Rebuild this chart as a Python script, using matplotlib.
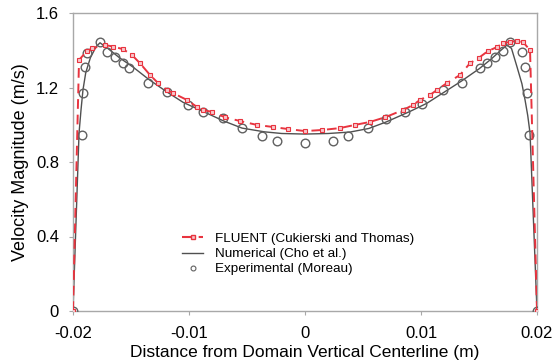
import matplotlib
matplotlib.use('Agg')
import matplotlib.pyplot as plt
from matplotlib.lines import Line2D

plt.rcParams['font.family'] = ['Liberation Sans', 'DejaVu Sans']

# FLUENT (Cukierski and Thomas)
fluent_x = [-0.02, -0.01948, -0.01879, -0.01836, -0.01724, -0.01655, -0.01569, -0.01491,
            -0.01422, -0.01336, -0.01267, -0.0119, -0.01138, -0.01017, -0.0093, -0.00879,
            -0.008, -0.0069, -0.0056, -0.00414, -0.00276, -0.00147, 0.0, 0.0015, 0.003,
            0.0043, 0.0056, 0.0069, 0.00845, 0.00931, 0.00991, 0.01078, 0.01138, 0.01224,
            0.01336, 0.01422, 0.0150, 0.01578, 0.01655, 0.01707, 0.01767, 0.01828, 0.0188,
            0.0194, 0.02]
fluent_y = [0.0, 1.348, 1.396, 1.41, 1.428, 1.42, 1.406, 1.374,
            1.33, 1.267, 1.224, 1.187, 1.17, 1.133, 1.095, 1.079,
            1.069, 1.04, 1.02, 0.999, 0.988, 0.977, 0.966, 0.972, 0.982,
            0.999, 1.015, 1.04, 1.079, 1.106, 1.133, 1.16, 1.187, 1.224,
            1.267, 1.33, 1.36, 1.396, 1.417, 1.439, 1.444, 1.45, 1.444,
            1.40, 0.0]

# Numerical (Cho et al.)
num_x = [-0.02, -0.01948, -0.01931, -0.01914, -0.0189, -0.0185, -0.0180, -0.01767,
         -0.0170, -0.0160, -0.01483, -0.0135, -0.0119, -0.0105, -0.00905, -0.0070,
         -0.00543, -0.0035, -0.002, 0.0, 0.002, 0.0039, 0.0055, 0.007, 0.009, 0.0105,
         0.012, 0.0135, 0.015, 0.016, 0.0168, 0.01741, 0.0178, 0.01828, 0.0187,
         0.01897, 0.0192, 0.0194, 0.02]
num_y = [0.0, 0.955, 1.079, 1.187, 1.28, 1.36, 1.42, 1.44,
         1.41, 1.36, 1.31, 1.245, 1.176, 1.12, 1.079, 1.02,
         0.982, 0.962, 0.953, 0.95, 0.953, 0.961, 0.98, 1.015, 1.07, 1.115,
         1.175, 1.235, 1.30, 1.35, 1.395, 1.428, 1.41, 1.31, 1.22,
         1.133, 1.05, 0.955, 0.0]

# Experimental (Moreau)
exp_x = [-0.02, -0.01922, -0.01914, -0.01897, -0.01879, -0.01767, -0.01707, -0.01638,
         -0.01569, -0.01517, -0.01353, -0.0119, -0.01009, -0.00879, -0.00707, -0.00543,
         -0.00371, -0.00241, 0.0, 0.00241, 0.00371, 0.00543, 0.00698, 0.00862, 0.01009,
         0.0119, 0.01353, 0.01509, 0.01569, 0.01638, 0.01707, 0.01767, 0.01871, 0.01897,
         0.01914, 0.01931, 0.02]
exp_y = [0.0, 0.945, 1.17, 1.31, 1.385, 1.444, 1.39, 1.364,
         1.33, 1.305, 1.224, 1.176, 1.106, 1.069, 1.036, 0.982,
         0.94, 0.913, 0.902, 0.913, 0.94, 0.982, 1.03, 1.069, 1.111,
         1.187, 1.224, 1.305, 1.33, 1.364, 1.396, 1.444, 1.39, 1.31,
         1.17, 0.945, 0.0]

x_ticks = [-0.02, -0.01, 0, 0.01, 0.02]
x_ticklabels = ['-0.02', '-0.01', '0', '0.01', '0.02']
y_ticks = [0, 0.4, 0.8, 1.2, 1.6]
y_ticklabels = ['0', '0.4', '0.8', '1.2', '1.6']

red = '#e8343f'
gray_line = '#505050'
gray_pt = '#606060'
spine_c = '#a8a8a8'

fig = plt.figure(figsize=(5.55, 3.64), dpi=100)
ax = fig.add_axes([73 / 555, 1 - 311 / 364, 464 / 555, 298 / 364])

ax.plot(num_x, num_y, color=gray_line, lw=1.0, zorder=2)
ax.plot(exp_x, exp_y, ls='none', marker='o', ms=6.2, mfc='none', mec=gray_pt, mew=1.0, zorder=3)
ax.plot(fluent_x, fluent_y, color=red, lw=1.4, ls=(0, (5, 3)), marker='s', ms=3.5,
        mfc='#f7c8cc', mec=red, mew=0.8, zorder=4)

ax.set_xlim(-0.02, 0.02)
ax.set_ylim(0, 1.6)
ax.set_xticks(x_ticks)
ax.set_xticklabels(x_ticklabels)
ax.set_yticks(y_ticks)
ax.set_yticklabels(y_ticklabels)
ax.tick_params(direction='out', length=3, color=spine_c, labelsize=12)
ax.tick_params(axis='x', pad=7.5)
ax.tick_params(axis='y', pad=7)
for s in ax.spines.values():
    s.set_color(spine_c)
    s.set_linewidth(1.0)

ax.set_xlabel('Distance from Domain Vertical Centerline (m)', fontsize=12.5, labelpad=3)
ax.set_ylabel('Velocity Magnitude (m/s)', fontsize=13, labelpad=5)

handles = [
    Line2D([], [], color=red, lw=1.5, ls=(0, (5, 3)), marker='s', ms=3, mfc='#f7c8cc', mec=red),
    Line2D([], [], color=gray_line, lw=1.0),
    Line2D([], [], ls='none', marker='o', ms=3.5, mfc='none', mec=gray_pt, mew=0.8),
]
labels = ['FLUENT (Cukierski and Thomas)', 'Numerical (Cho et al.)', 'Experimental (Moreau)']
ax.legend(handles, labels, loc='upper left', bbox_to_anchor=(175 / 555, 1 - 226 / 364),
          bbox_transform=fig.transFigure, frameon=False, fontsize=9.7, handlelength=1.6,
          handletextpad=0.9, labelspacing=0.2, borderpad=0)

fig.savefig('out.png', dpi=100)
